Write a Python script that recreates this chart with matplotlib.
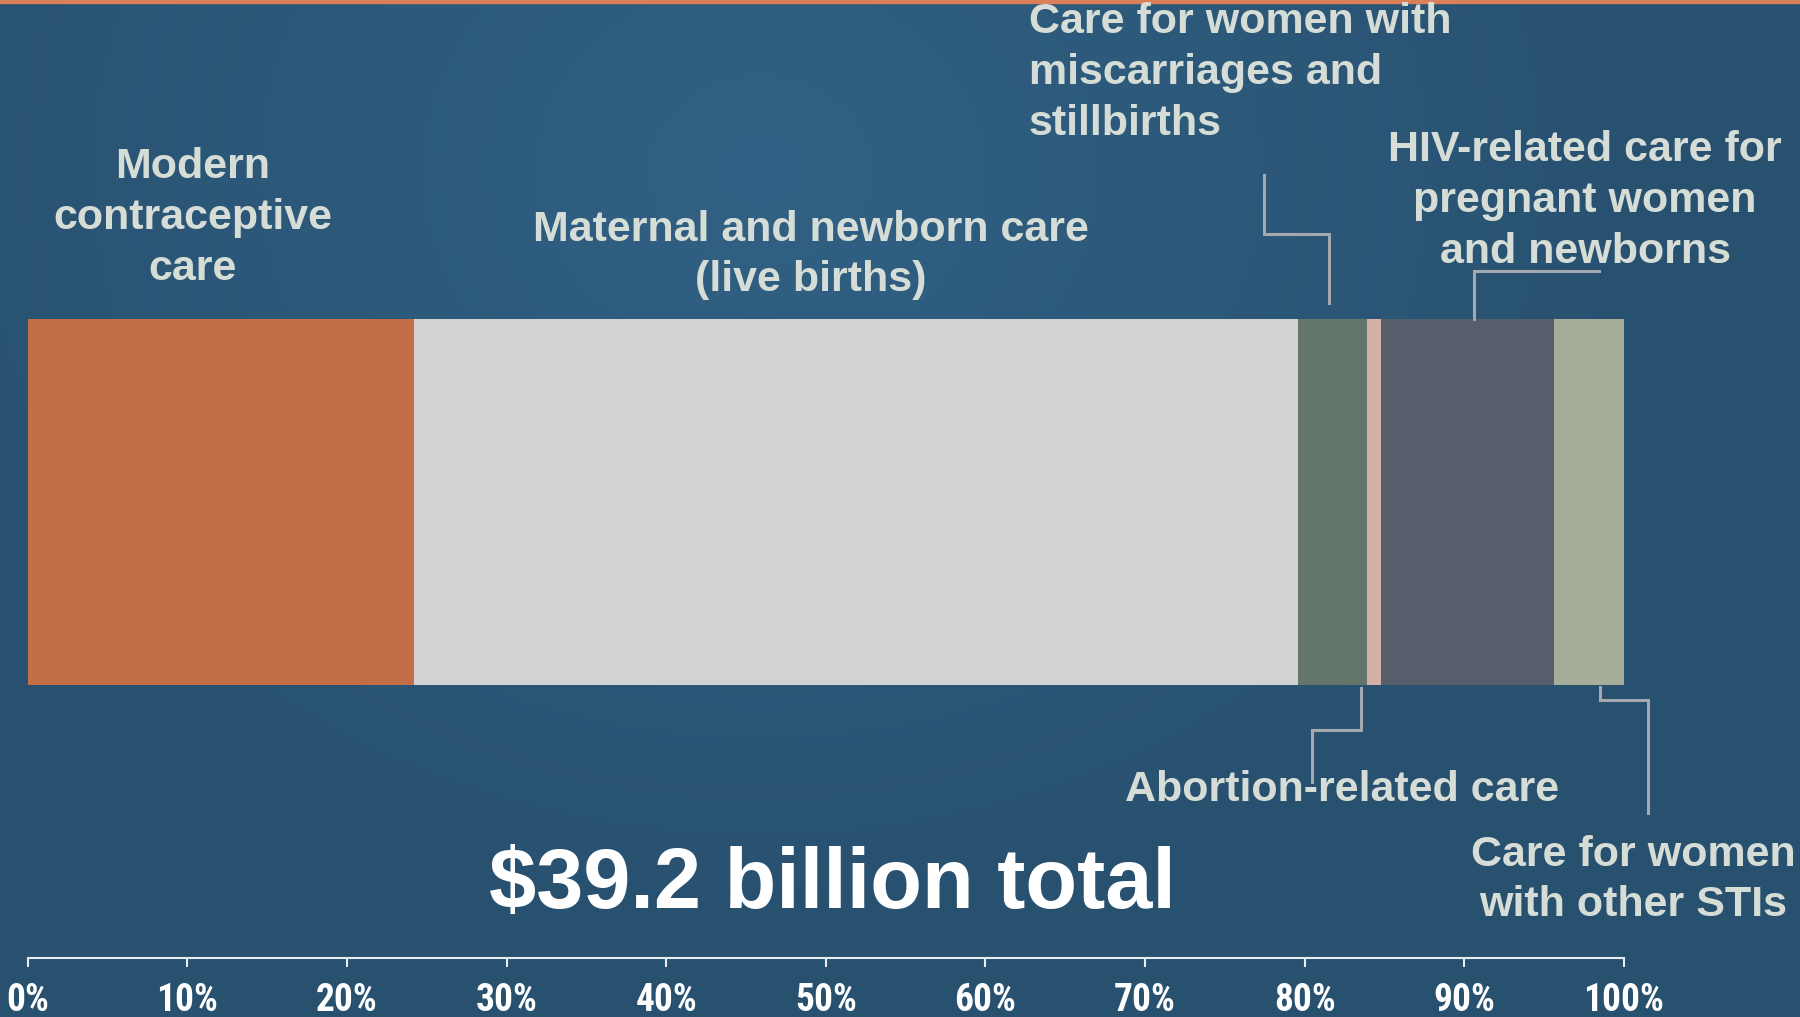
import numpy as np
import matplotlib
matplotlib.use("Agg")
import matplotlib.pyplot as plt

# cost shares, percent of $39.2 billion
categories = [
    "Modern contraceptive care",
    "Maternal and newborn care (live births)",
    "Care for women with miscarriages and stillbirths",
    "Abortion-related care",
    "HIV-related care for pregnant women and newborns",
    "Care for women with other STIs",
]
shares = [24.2, 55.4, 4.3, 0.9, 10.8, 4.4]
colors = ["#c46e48", "#d2d2d2", "#64766a", "#d4b1a7", "#565d6b", "#a6ad9b"]
ticks = list(range(0, 101, 10))
tick_labels = [f"{t}%" for t in ticks]

W, H = 1800, 1017
TXT = "#d6ddd6"
LEAD = "#a3a9ae"
plt.rcParams["font.family"] = ["Liberation Sans", "DejaVu Sans"]

fig = plt.figure(figsize=(W / 100, H / 100), dpi=100)

# background: dark blue with a soft glow near the top
bg = fig.add_axes([0, 0, 1, 1])
yy, xx = np.mgrid[0:H, 0:W]
r = np.sqrt(((xx - 760) / 1.0) ** 2 + ((yy - 170) / 0.85) ** 2)
t = np.clip(r / 950, 0, 1)
inner = np.array([49, 97, 132]) / 255
outer = np.array([40, 80, 111]) / 255
img = inner[None, None, :] * (1 - t[..., None]) + outer[None, None, :] * t[..., None]
bg.imshow(img, extent=(0, W, H, 0), aspect="auto")
bg.add_patch(plt.Rectangle((0, 0), W, 3, color="#d9805a"))
bg.set_xlim(0, W)
bg.set_ylim(H, 0)
bg.axis("off")

left = 27.6 / W
width = 1596.4 / W
ax = fig.add_axes([left, 0, width, 1])
ax.set_facecolor("none")
ax.set_xlim(0, 100)
ax.set_ylim(H, 0)
ax.axis("off")

starts = np.concatenate([[0], np.cumsum(shares)[:-1]])
ax.barh(502, shares, left=starts, height=366, color=colors, linewidth=0)

bold = dict(color=TXT, fontsize=31, fontweight="bold", linespacing=1.34)
ax.text(10.36, 218, "Modern\ncontraceptive\ncare", ha="center", va="center", **bold)
ax.text(49.07, 255, "Maternal and newborn care\n(live births)", ha="center", va="center", **bold)
ax.text(62.73, 73, "Care for women with\nmiscarriages and\nstillbirths", ha="left", va="center", **bold)
ax.text(97.56, 201, "HIV-related care for\npregnant women\nand newborns", ha="center", va="center",
        clip_on=False, **bold)
ax.text(82.34, 790, "Abortion-related care", ha="center", va="center", **bold)
ax.text(100.56, 880, "Care for women\nwith other STIs", ha="center", va="center",
        clip_on=False, **bold)
ax.text(50.39, 886, "$39.2 billion total", ha="center", va="center", color="white",
        fontsize=61, fontweight="bold")

# elbow leader lines from labels to their segments
leaders = [
    ([77.45, 77.45, 81.52, 81.52], [175, 234, 234, 303]),
    ([90.6, 90.6, 98.44], [319, 271, 271]),
    ([83.53, 83.53, 80.46, 80.46], [688, 730, 730, 782]),
    ([98.5, 98.5, 101.5, 101.5], [687, 700, 700, 813]),
]
for lx, ly in leaders:
    ax.plot(lx, ly, color=LEAD, lw=2.2, clip_on=False, solid_joinstyle="miter")

# percentage scale along the bottom
sc = fig.add_axes([left, (H - 958) / H, width, 0.0001])
sc.set_facecolor("none")
sc.set_xlim(0, 100)
sc.set_yticks([])
for s in ["top", "left", "right"]:
    sc.spines[s].set_visible(False)
sc.spines["bottom"].set_color("#e6ecef")
sc.spines["bottom"].set_linewidth(1.5)
sc.set_xticks(ticks)
sc.set_xticklabels(tick_labels, family=["Roboto Condensed", "Liberation Sans Narrow", "Liberation Sans"],
                   fontweight="bold", fontsize=27, color="white")
sc.tick_params(axis="x", direction="out", length=6.5, width=1.5, color="#e6ecef", pad=11)

fig.savefig("out.png", dpi=100)
